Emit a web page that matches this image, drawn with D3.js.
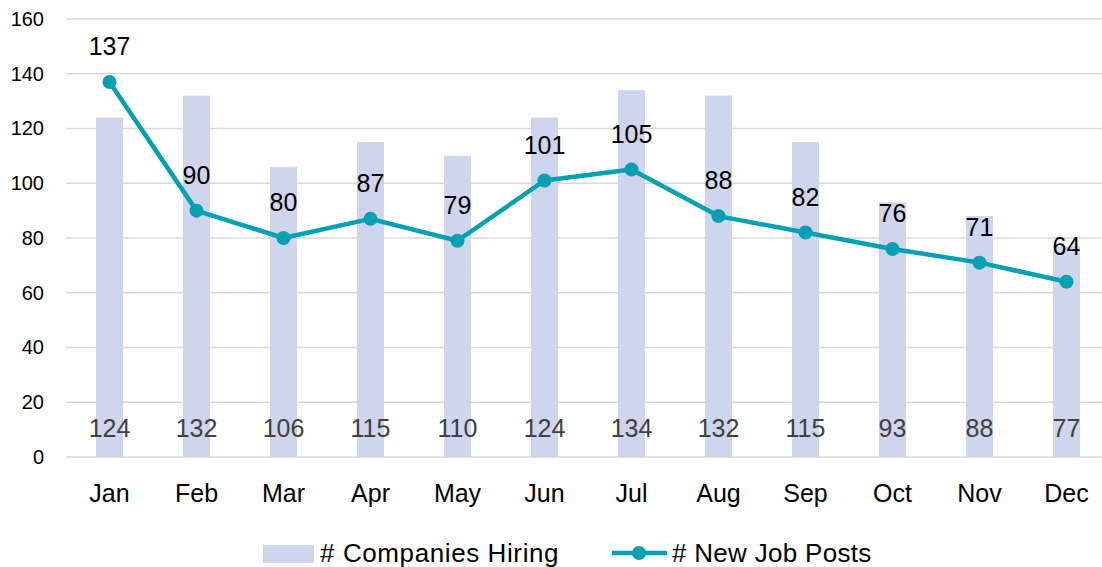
<!DOCTYPE html>
<html>
<head>
<meta charset="utf-8">
<script src="https://cdn.jsdelivr.net/npm/d3@7"></script>
<style>
  body { margin: 0; background: #fff; }
  svg text { font-family: "Liberation Sans", Arial, sans-serif; }
</style>
</head>
<body>
<svg id="chart" width="1102" height="567"></svg>
<script>
var months = ["Jan", "Feb", "Mar", "Apr", "May", "Jun", "Jul", "Aug", "Sep", "Oct", "Nov", "Dec"];
var companies_hiring = [124, 132, 106, 115, 110, 124, 134, 132, 115, 93, 88, 77];
var new_job_posts = [137, 90, 80, 87, 79, 101, 105, 88, 82, 76, 71, 64];
var y_ticks = [0, 20, 40, 60, 80, 100, 120, 140, 160];

var BAR_COLOR = "#cfd5ec";
var LINE_COLOR = "#00a2b2";

var svg = d3.select("#chart");

var x = d3.scaleBand().domain(months).range([66, 1110]).paddingInner(0.69).paddingOuter(0.345);
var y = d3.scaleLinear().domain([0, 160]).range([457, 19]);

// gridlines
svg.append("g")
  .selectAll("line")
  .data(y_ticks)
  .join("line")
  .attr("x1", 66).attr("x2", 1110)
  .attr("y1", function (d) { return y(d); })
  .attr("y2", function (d) { return y(d); })
  .attr("stroke", "#d9d9d9")
  .attr("stroke-width", 1.5);

// y axis labels
var yAxis = svg.append("g")
  .attr("transform", "translate(48,0)")
  .call(d3.axisLeft(y).tickValues(y_ticks).tickSize(0).tickPadding(4));
yAxis.select(".domain").remove();
yAxis.selectAll("text").attr("font-size", 20).attr("fill", "#000")
  .style("font-family", "Liberation Sans, Arial, sans-serif");

// bars
svg.append("g")
  .selectAll("rect")
  .data(companies_hiring)
  .join("rect")
  .attr("x", function (d, i) { return x(months[i]); })
  .attr("width", x.bandwidth())
  .attr("y", function (d) { return y(d); })
  .attr("height", function (d) { return y(0) - y(d); })
  .attr("fill", BAR_COLOR);

// bar labels (inside base)
svg.append("g")
  .selectAll("text")
  .data(companies_hiring)
  .join("text")
  .attr("x", function (d, i) { return x(months[i]) + x.bandwidth() / 2; })
  .attr("y", 437)
  .attr("text-anchor", "middle")
  .attr("font-size", 25)
  .attr("fill", "#404040")
  .text(function (d) { return d; });

// x labels
var xAxis = svg.append("g")
  .attr("transform", "translate(0,457)")
  .call(d3.axisBottom(x).tickSize(0).tickPadding(27));
xAxis.select(".domain").remove();
xAxis.selectAll("text").attr("font-size", 25).attr("fill", "#000")
  .style("font-family", "Liberation Sans, Arial, sans-serif");

// line
var cx = function (i) { return x(months[i]) + x.bandwidth() / 2; };
var line = d3.line()
  .x(function (d, i) { return cx(i); })
  .y(function (d) { return y(d); });

svg.append("path")
  .datum(new_job_posts)
  .attr("d", line)
  .attr("fill", "none")
  .attr("stroke", LINE_COLOR)
  .attr("stroke-width", 4.5)
  .attr("stroke-linejoin", "round");

svg.append("g")
  .selectAll("circle")
  .data(new_job_posts)
  .join("circle")
  .attr("cx", function (d, i) { return cx(i); })
  .attr("cy", function (d) { return y(d); })
  .attr("r", 7)
  .attr("fill", LINE_COLOR);

svg.append("g")
  .selectAll("text")
  .data(new_job_posts)
  .join("text")
  .attr("x", function (d, i) { return cx(i); })
  .attr("y", function (d) { return y(d) - 27; })
  .attr("text-anchor", "middle")
  .attr("font-size", 25)
  .attr("fill", "#000")
  .text(function (d) { return d; });

// legend
var legend = svg.append("g");
legend.append("rect")
  .attr("x", 263).attr("y", 545).attr("width", 51).attr("height", 18)
  .attr("fill", BAR_COLOR);
legend.append("text")
  .attr("x", 320).attr("y", 562)
  .attr("font-size", 26)
  .attr("letter-spacing", 0.6)
  .text("# Companies Hiring");
legend.append("line")
  .attr("x1", 612).attr("x2", 667).attr("y1", 553).attr("y2", 553)
  .attr("stroke", LINE_COLOR).attr("stroke-width", 4.5);
legend.append("circle")
  .attr("cx", 639).attr("cy", 553).attr("r", 7)
  .attr("fill", LINE_COLOR);
legend.append("text")
  .attr("x", 672).attr("y", 562)
  .attr("font-size", 26)
  .attr("letter-spacing", 0.3)
  .text("# New Job Posts");
</script>
</body>
</html>
